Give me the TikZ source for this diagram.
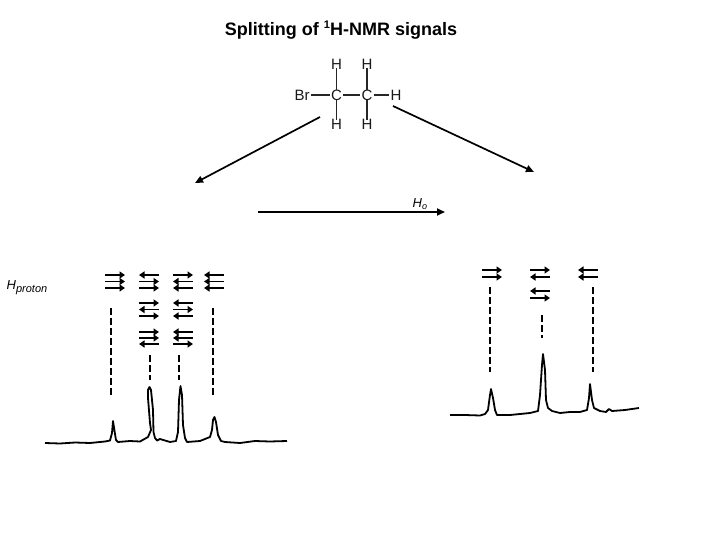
\documentclass[tikz,border=0pt]{standalone}
\usepackage{fontspec}
\setmainfont{Liberation Sans}
\usetikzlibrary{arrows.meta}
\tikzset{
  atom/.style={inner sep=0pt,font=\fontsize{15}{16}\selectfont,text=black!90},
  bond/.style={line width=1.2pt,black!85},
  bigarrow/.style={line width=1.7pt,-{Triangle[length=8pt,width=7pt]}},
  spinarrow/.style={line width=1.7pt,-{Triangle[length=5.5pt,width=7pt]}},
  guide/.style={line width=1.7pt,dash pattern=on 6.5pt off 3.5pt},
  spectrum/.style={line width=1.8pt,line join=round},
  lab/.style={inner sep=0pt,font=\fontsize{13}{14}\selectfont\itshape}
}
\newcommand{\spinR}[2]{\draw[spinarrow] (#1,#2) -- ++(20,0);}
\newcommand{\spinL}[2]{\draw[spinarrow] (#1+20,#2) -- ++(-20,0);}
\begin{document}
\begin{tikzpicture}[x=1pt,y=-1pt]
\useasboundingbox (0,0) rectangle (720,540);
\node[inner sep=0pt,font=\fontsize{18}{20}\selectfont\bfseries] (title) at (341,30) {Splitting of \raisebox{0.42em}{\fontsize{11}{11}\selectfont 1}H-NMR signals};
% molecule
\node[atom] (br) at (302,95) {Br};
\node[atom] (c1) at (336.5,95) {C};
\node[atom] (c2) at (367,95) {C};
\node[atom] (h5) at (396,95) {H};
\node[atom] (h1) at (336.5,64) {H};
\node[atom] (h2) at (367,64) {H};
\node[atom] (h3) at (336.5,124) {H};
\node[atom] (h4) at (367,124) {H};
\draw[bond] (br.east) ++(1,0) -- ([xshift=-1pt]c1.west);
\draw[bond] (c1.east) ++(1,0) -- ([xshift=-1pt]c2.west);
\draw[bond] (c2.east) ++(1,0) -- ([xshift=-1pt]h5.west);
\draw[bond] ([yshift=1pt]h1.south) -- ([yshift=-1pt]c1.north);
\draw[bond] ([yshift=1pt]h2.south) -- ([yshift=-1pt]c2.north);
\draw[bond] ([yshift=1pt]c1.south) -- ([yshift=-1pt]h3.north);
\draw[bond] ([yshift=1pt]c2.south) -- ([yshift=-1pt]h4.north);
% big arrows
\coordinate (as) at (320,117); \coordinate (ae) at (195,183);
\coordinate (bs) at (393,106); \coordinate (be) at (534,172);
\coordinate (cs) at (258,212); \coordinate (ce) at (445,212);
\draw[bigarrow] (as) -- (ae);
\draw[bigarrow] (bs) -- (be);
\draw[bigarrow] (cs) -- (ce);
\node[lab,anchor=west] (ho) at (412.5,204) {H\textsubscript{\fontsize{9}{9}\selectfont o}};
\node[lab,anchor=west] (hp) at (6.5,288) {H\textsubscript{\fontsize{11}{11}\selectfont proton}};
% left spins
\spinR{105}{275}\spinR{105}{281.5}\spinR{105}{288}
\spinL{139}{275}\spinR{139}{281.5}\spinR{139}{288}
\spinR{139}{303}\spinL{139}{309.5}\spinR{139}{316}
\spinR{139}{332}\spinR{139}{338}\spinL{139}{344}
\spinR{173}{275}\spinL{173}{281.5}\spinL{173}{288}
\spinL{173}{303}\spinR{173}{309.5}\spinL{173}{316}
\spinL{173}{332}\spinL{173}{338}\spinR{173}{344}
\spinL{204}{275}\spinL{204}{281.5}\spinL{204}{288}
% right spins
\spinR{482}{270}\spinR{482}{277}
\spinR{530}{270}\spinL{530}{277}
\spinL{530}{291}\spinR{530}{298}
\spinL{578}{270}\spinL{578}{277}
% guides
\coordinate (g1a) at (111,308); \coordinate (g1b) at (111,395);
\coordinate (g2a) at (150,355); \coordinate (g2b) at (150,380);
\coordinate (g3a) at (179,355); \coordinate (g3b) at (179,380);
\coordinate (g4a) at (213,308); \coordinate (g4b) at (213,395);
\coordinate (g5a) at (490,287); \coordinate (g5b) at (490,372);
\coordinate (g6a) at (542,315); \coordinate (g6b) at (542,338);
\coordinate (g7a) at (593,287); \coordinate (g7b) at (593,372);
\foreach \n in {1,...,7} \draw[guide] (g\n a) -- (g\n b);
% spectra
\draw[spectrum] plot coordinates {(45,443) (60,443.5) (75,442.5) (90,443) (105,441.5) (110,440.5) (112,433) (113,421) (115,434) (116,440) (118,442) (130,441) (140,441.5) (148,437) (151,430) (150,423) (148,398) (148,390) (149.5,387) (151,390) (153,410) (153.5,432) (155,438) (157,440.5) (160,439) (170,442) (176,441) (178,432) (179,400) (180.5,386) (182,395) (183,425) (185,438) (187,442) (200,441) (210,437) (212,430) (213,420) (214.5,417) (216,422) (218,435) (221,441) (225,442) (240,443) (255,441) (270,441.5) (287,441)};
\draw[spectrum] plot coordinates {(450,415) (465,415) (480,415.5) (485,414) (488,410) (490,395) (491,389) (493,398) (495,410) (497,415) (510,415) (530,413) (538,411) (540,395) (542,365) (543,354) (545,370) (546,400) (548,408) (552,411) (560,413) (570,412) (580,412) (587,410) (589,398) (590,384) (592,400) (594,408) (600,411) (606,412) (609,409) (612,411) (625,410) (639,408)};
\end{tikzpicture}
\end{document}
